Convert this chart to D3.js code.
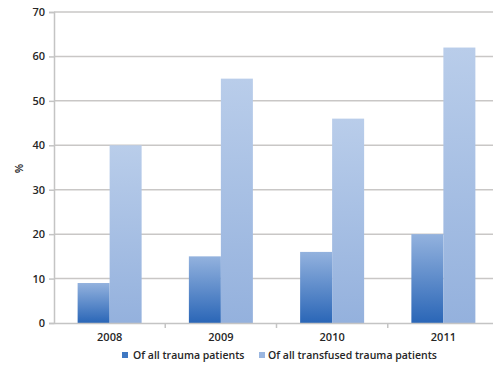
<!DOCTYPE html>
<html>
<head>
<meta charset="utf-8">
<script src="https://cdn.jsdelivr.net/npm/d3@7"></script>
<style>
  html, body { margin: 0; padding: 0; background: #fff; }
  svg { display: block; }
  text { font-family: "Open Sans", "DejaVu Sans", sans-serif; font-weight: 600; fill: #262626; }
</style>
</head>
<body>
<svg id="chart" width="493" height="369"></svg>
<script>
// Share of patients receiving transfusion, by year
const years = ["2008", "2009", "2010", "2011"];
const seriesNames = ["Of all trauma patients", "Of all transfused trauma patients"];
const allTrauma = [9, 15, 16, 20];
const allTransfused = [40, 55, 46, 62];
const yTicks = [0, 10, 20, 30, 40, 50, 60, 70];

const svg = d3.select("#chart");
const margin = { left: 54, right: -6, top: 12, bottom: 46 };
const W = 493, H = 369;
const x0 = margin.left, x1 = W - margin.right;
const y0 = H - margin.bottom, y1 = margin.top;

const defs = svg.append("defs");
const g1 = defs.append("linearGradient").attr("id", "gradDark")
  .attr("x1", 0).attr("y1", 0).attr("x2", 0).attr("y2", 1);
g1.append("stop").attr("offset", "0%").attr("stop-color", "#93b2de");
g1.append("stop").attr("offset", "100%").attr("stop-color", "#2a66b7");
const g2 = defs.append("linearGradient").attr("id", "gradLight")
  .attr("x1", 0).attr("y1", 0).attr("x2", 0).attr("y2", 1);
g2.append("stop").attr("offset", "0%").attr("stop-color", "#b9cdea");
g2.append("stop").attr("offset", "100%").attr("stop-color", "#94b1dd");

const x = d3.scaleBand().domain(years).range([x0, x1]).paddingInner(0).paddingOuter(0);
const xs = d3.scaleBand().domain([0, 1]).range([0, 64]);
const y = d3.scaleLinear().domain([0, 70]).range([y0, y1]);

// gridlines
svg.append("g").selectAll("line").data(yTicks.filter(d => d > 0)).join("line")
  .attr("x1", x0).attr("x2", x1)
  .attr("y1", d => y(d)).attr("y2", d => y(d))
  .attr("stroke", "#c9c7c6").attr("stroke-width", 1.5);

// bars
const groups = svg.append("g").selectAll("g").data(years).join("g")
  .attr("transform", d => `translate(${x(d) + x.bandwidth() / 2 - 32},0)`);
groups.append("rect")
  .attr("x", xs(0)).attr("width", xs.bandwidth())
  .attr("y", (d, i) => y(allTrauma[i]))
  .attr("height", (d, i) => y0 - y(allTrauma[i]))
  .attr("fill", "url(#gradDark)");
groups.append("rect")
  .attr("x", xs(1)).attr("width", xs.bandwidth())
  .attr("y", (d, i) => y(allTransfused[i]))
  .attr("height", (d, i) => y0 - y(allTransfused[i]))
  .attr("fill", "url(#gradLight)");

// y axis
const yAxis = svg.append("g").attr("transform", `translate(${x0},0)`)
  .call(d3.axisLeft(y).tickValues(yTicks).tickSize(5).tickPadding(4));
yAxis.select(".domain").attr("stroke", "#c4c4c4").attr("stroke-width", 1.5);
yAxis.selectAll(".tick line").attr("stroke", "#c4c4c4").attr("stroke-width", 1.5);
yAxis.selectAll("text").attr("font-size", 11).style("fill", "#262626");

// x axis
const xAxis = svg.append("g").attr("transform", `translate(0,${y0})`)
  .call(d3.axisBottom(x).tickSize(0).tickPadding(10));
xAxis.select(".domain").attr("stroke", "#c4c4c4").attr("stroke-width", 1.5);
xAxis.selectAll("text").attr("font-size", 11).style("fill", "#262626");
// category separators
svg.append("g").selectAll("line").data(years.slice(1)).join("line")
  .attr("x1", d => x(d)).attr("x2", d => x(d))
  .attr("y1", y0).attr("y2", y0 + 5)
  .attr("stroke", "#c4c4c4").attr("stroke-width", 1.5);

// y title
svg.append("text")
  .attr("transform", `translate(18,${(y0 + y1) / 2 + 1}) rotate(-90)`)
  .attr("text-anchor", "middle").attr("dominant-baseline", "central")
  .attr("font-size", 11).attr("font-weight", 700).text("%");

// legend
const legendItems = [
  { name: seriesNames[0], fill: "#3f78c2", sx: 122, tx: 133 },
  { name: seriesNames[1], fill: "#9ab6e0", sx: 259, tx: 268 }
];
const lg = svg.append("g");
lg.selectAll("rect").data(legendItems).join("rect")
  .attr("x", d => d.sx).attr("y", 352).attr("width", 6).attr("height", 6)
  .attr("fill", d => d.fill);
lg.selectAll("text").data(legendItems).join("text")
  .attr("x", d => d.tx).attr("y", 355).attr("dominant-baseline", "central")
  .attr("font-size", 10.5).text(d => d.name);
</script>
</body>
</html>
